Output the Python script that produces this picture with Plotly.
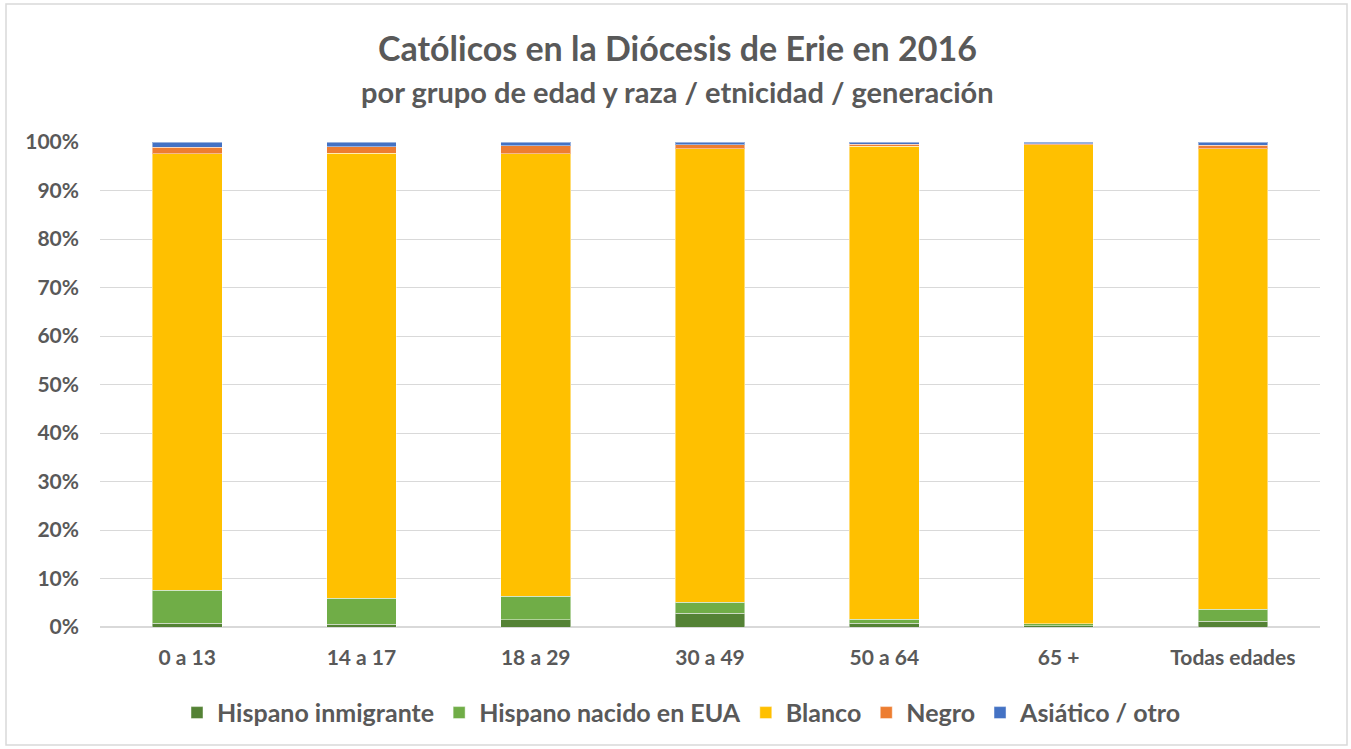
import plotly.graph_objects as go

categories = ["0 a 13", "14 a 17", "18 a 29", "30 a 49", "50 a 64", "65 +", "Todas edades"]
hispano_inmigrante = [0.8, 0.55, 1.45, 2.8, 0.75, 0.3, 1.2]
hispano_nacido = [6.8, 5.4, 4.9, 2.3, 0.8, 0.4, 2.5]
blanco = [90.0, 91.75, 91.25, 93.55, 97.55, 98.75, 94.9]
negro = [1.3, 1.3, 1.6, 0.75, 0.4, 0.2, 0.7]
asiatico = [1.1, 1.0, 0.8, 0.6, 0.5, 0.35, 0.7]

series = [
    ("Hispano inmigrante", hispano_inmigrante, "#548235"),
    ("Hispano nacido en EUA", hispano_nacido, "#70AD47"),
    ("Blanco", blanco, "#FFC000"),
    ("Negro", negro, "#ED7D31"),
    ("Asiático / otro", asiatico, "#4472C4"),
]

FONT = "Lato"
GREY = "#595959"

fig = go.Figure()
for name, vals, col in series:
    fig.add_trace(go.Bar(
        x=categories, y=vals, name=name,
        marker=dict(color=col, line=dict(color="rgba(255,255,255,0.45)", width=1)),
    ))

fig.update_layout(
    barmode="stack",
    bargap=0.6,
    width=1351, height=749,
    margin=dict(l=100, r=31, t=142, b=122),
    paper_bgcolor="white", plot_bgcolor="white",
    font=dict(family=FONT, color=GREY),
    showlegend=True,
    legend=dict(orientation="h", x=(682 - 100) / 1220, xanchor="center", y=-0.177,
                yanchor="middle",
                font=dict(family=FONT, size=25, color=GREY, weight="bold"),
                itemwidth=30, traceorder="normal", tracegroupgap=0),
    xaxis=dict(showgrid=False, showline=False, ticks="",
               tickfont=dict(family=FONT, size=21, color=GREY, weight="bold"),
               ticklabelstandoff=16),
    yaxis=dict(range=[0, 100], dtick=10, ticksuffix="%", showgrid=True,
               gridcolor="#D9D9D9", gridwidth=1.2, zeroline=True, zerolinecolor="#D9D9D9",
               zerolinewidth=1.5, showline=False, ticks="",
               tickfont=dict(family=FONT, size=21, color=GREY, weight="bold"),
               ticklabelstandoff=20),
    annotations=[
        dict(text="Católicos en la Diócesis de Erie en 2016", x=0.5, y=47, xref="paper",
             yref="paper", showarrow=False,
             font=dict(family=FONT, size=34, color=GREY, weight="bold")),
        dict(text="por grupo de edad y raza / etnicidad / generación", x=0.5, y=92,
             xref="paper", yref="paper", showarrow=False,
             font=dict(family=FONT, size=29, color=GREY, weight="bold")),
    ],
)

# convert pixel y positions of annotations to paper coords
plot_top, plot_bot = 142, 749 - 122
h = plot_bot - plot_top
for a in fig.layout.annotations:
    a.y = (plot_bot - a.y) / h
    a.yanchor = "middle"
    a.x = (677 - 100) / 1220
    a.xanchor = "center"

# outer border of chart
def px_x(p):
    return (p - 100) / 1220
def px_y(p):
    return (plot_bot - p) / h
fig.add_shape(type="rect", xref="paper", yref="paper",
              x0=px_x(6), x1=px_x(1347), y0=px_y(745), y1=px_y(4),
              line=dict(color="#D9D9D9", width=1.5), fillcolor="rgba(0,0,0,0)", layer="below")

fig.write_html("out.html")
